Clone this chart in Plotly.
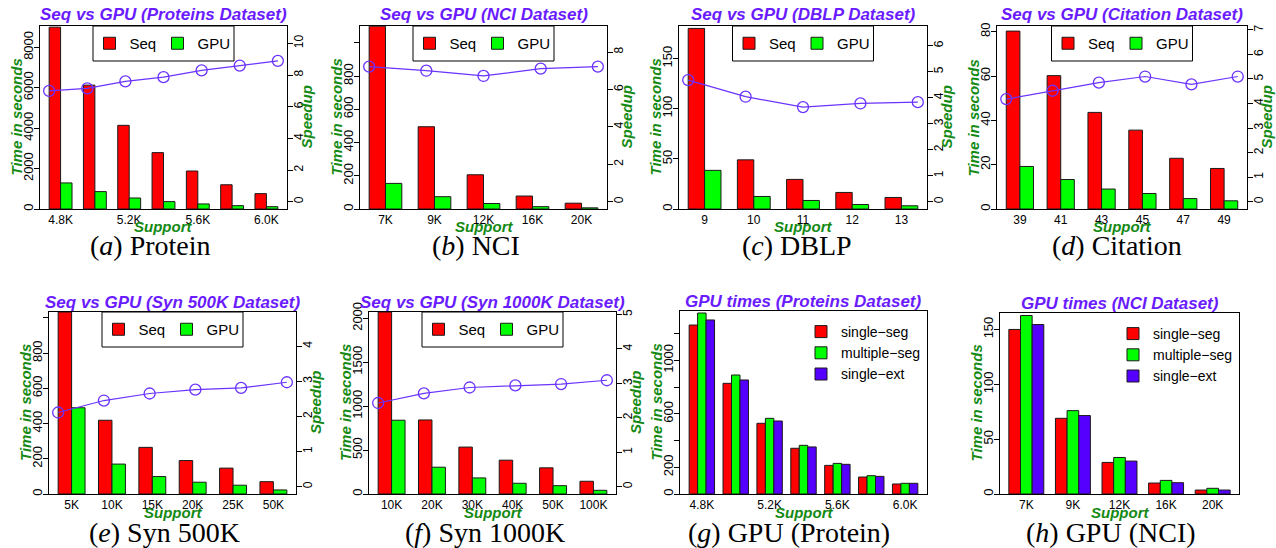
import plotly.graph_objects as go

# ---------------- data ----------------
prot_support = ["4.8K", "5.0K", "5.2K", "5.4K", "5.6K", "5.8K", "6.0K"]
prot_seq = [9000, 6130, 4140, 2790, 1880, 1200, 760]
prot_gpu = [1290, 860, 545, 365, 250, 165, 115]
prot_speedup = [7.0, 7.16, 7.6, 7.87, 8.3, 8.6, 8.9]

nci_support = ["7K", "9K", "12K", "16K", "20K"]
nci_seq = [1100, 495, 206, 78, 35]
nci_gpu = [154, 74, 33, 14, 7]
nci_speedup = [7.22, 7.0, 6.72, 7.11, 7.22]

dblp_support = ["9", "10", "11", "12", "13"]
dblp_seq = [180, 49, 29.5, 16.5, 11.5]
dblp_gpu = [38.5, 12.5, 8.5, 4.5, 3.2]
dblp_speedup = [4.68, 4.04, 3.64, 3.78, 3.83]

cit_support = ["39", "41", "43", "45", "47", "49"]
cit_seq = [80.3, 60.2, 43.6, 35.6, 22.9, 18.3]
cit_gpu = [19.2, 13.3, 9.0, 7.0, 4.7, 3.7]
cit_speedup = [4.18, 4.52, 4.85, 5.1, 4.78, 5.1]

syn500_support = ["5K", "10K", "15K", "20K", "25K", "50K"]
syn500_seq = [1034, 419, 265, 190, 147, 70]
syn500_gpu = [490, 170, 99, 67, 50, 23]
syn500_speedup = [2.11, 2.45, 2.65, 2.76, 2.81, 2.97]

syn1000_support = ["10K", "20K", "30K", "40K", "50K", "100K"]
syn1000_seq = [2072, 843, 534, 385, 298, 145]
syn1000_gpu = [840, 305, 183, 122, 95, 42]
syn1000_speedup = [2.43, 2.71, 2.88, 2.94, 2.98, 3.09]

gpu_prot_single_seg = [1264, 828, 529, 342, 214, 127, 75]
gpu_prot_multiple_seg = [1354, 890, 566, 364, 229, 137, 80]
gpu_prot_single_ext = [1302, 853, 546, 352, 222, 132, 80]

gpu_nci_single_seg = [150, 69, 28.8, 10, 3.6]
gpu_nci_multiple_seg = [162.7, 76, 33.3, 12.4, 5.2]
gpu_nci_single_ext = [154.5, 71.5, 30, 10.3, 3.6]

# ---------------- styling ----------------
W, H = 1276, 548
FONT = "Liberation Sans"
SERIF = "Liberation Serif"
TITLE_COLOR = "#6A1BFF"
AXIS_COLOR = "#148A14"
LINE_COLOR = "#6A33FF"
RED, GREEN, VIOLET = "#FF0000", "#00FF00", "#5500FF"


def fx(px):
    return px / W


def fy(py):
    return 1 - py / H


def ticks(vals, hide=()):
    return vals, ["" if v in hide else str(v) for v in vals]


panels = [
    dict(title="Seq vs GPU (Proteins Dataset)", caption="(<i>a</i>) Protein", box=(40, 26, 287, 209), cap_x=150,
         cats=prot_support, bars=[("Seq", prot_seq, RED), ("GPU", prot_gpu, GREEN)], speed=prot_speedup,
         xticks=["4.8K", "5.2K", "5.6K", "6.0K"], yrange=[0, 9056], yt=ticks([0, 2000, 4000, 6000, 8000]),
         y2range=[-0.46, 11.1], y2t=ticks([0, 2, 4, 6, 8, 10])),
    dict(title="Seq vs GPU (NCI Dataset)", caption="(<i>b</i>) NCI", box=(360, 26, 607, 209), cap_x=476,
         cats=nci_support, bars=[("Seq", nci_seq, RED), ("GPU", nci_gpu, GREEN)], speed=nci_speedup,
         xticks=nci_support, yrange=[0, 1101], yt=ticks([0, 200, 400, 600, 800, 1000], hide=(1000,)),
         y2range=[-0.39, 9.39], y2t=ticks([0, 2, 4, 6, 8])),
    dict(title="Seq vs GPU (DBLP Dataset)", caption="(<i>c</i>) DBLP", box=(679, 26, 927, 209), cap_x=797,
         cats=dblp_support, bars=[("Seq", dblp_seq, RED), ("GPU", dblp_gpu, GREEN)], speed=dblp_speedup,
         xticks=dblp_support, yrange=[0, 182.4], yt=ticks([0, 50, 100, 150]),
         y2range=[-0.28, 6.76], y2t=ticks([0, 1, 2, 3, 4, 5, 6])),
    dict(title="Seq vs GPU (Citation Dataset)", caption="(<i>d</i>) Citation", box=(997, 26, 1247, 209), cap_x=1117,
         cats=cit_support, bars=[("Seq", cit_seq, RED), ("GPU", cit_gpu, GREEN)], speed=cit_speedup,
         xticks=cit_support, yrange=[0, 82.6], yt=ticks([0, 20, 40, 60, 80]),
         y2range=[-0.3, 7.16], y2t=ticks([0, 1, 2, 3, 4, 5, 6, 7])),
    dict(title="Seq vs GPU (Syn 500K Dataset)", caption="(<i>e</i>) Syn 500K", box=(49, 312, 296, 494), cap_x=164,
         cats=syn500_support, bars=[("Seq", syn500_seq, RED), ("GPU", syn500_gpu, GREEN)], speed=syn500_speedup,
         xticks=syn500_support, yrange=[0, 1034], yt=ticks([0, 200, 400, 600, 800, 1000], hide=(1000,)),
         y2range=[-0.21, 4.97], y2t=ticks([0, 1, 2, 3, 4])),
    dict(title="Seq vs GPU (Syn 1000K Dataset)", caption="(<i>f</i>) Syn 1000K", box=(369, 312, 616, 494), cap_x=485,
         cats=syn1000_support, bars=[("Seq", syn1000_seq, RED), ("GPU", syn1000_gpu, GREEN)], speed=syn1000_speedup,
         xticks=syn1000_support, yrange=[0, 2072], yt=ticks([0, 500, 1000, 1500, 2000]),
         y2range=[-0.21, 5.07], y2t=ticks([0, 1, 2, 3, 4, 5])),
    dict(title="GPU times (Proteins Dataset)", caption="(<i>g</i>) GPU (Protein)", box=(680, 311, 927, 494), cap_x=789,
         cats=prot_support,
         bars=[("single\u2212seg", gpu_prot_single_seg, RED), ("multiple\u2212seg", gpu_prot_multiple_seg, GREEN),
               ("single\u2212ext", gpu_prot_single_ext, VIOLET)], speed=None,
         xticks=["4.8K", "5.2K", "5.6K", "6.0K"], yrange=[0, 1369],
         yt=ticks([0, 200, 400, 600, 800, 1000, 1200], hide=(400, 800, 1200)), leg_x=801),
    dict(title="GPU times (NCI Dataset)", caption="(<i>h</i>) GPU (NCI)", box=(1000, 313, 1239, 494), cap_x=1111,
         cats=nci_support,
         bars=[("single\u2212seg", gpu_nci_single_seg, RED), ("multiple\u2212seg", gpu_nci_multiple_seg, GREEN),
               ("single\u2212ext", gpu_nci_single_ext, VIOLET)], speed=None,
         xticks=nci_support, yrange=[0, 165], yt=ticks([0, 50, 100, 150]), leg_x=1113),
]

fig = go.Figure()
layout = dict(template="none", width=W, height=H, margin=dict(l=0, r=0, t=0, b=0, pad=0), autosize=False,
              plot_bgcolor="white", paper_bgcolor="white", barmode="overlay",
              font=dict(family=FONT, color="black"), annotations=[], shapes=[])

leg_count = [0]


def new_legend():
    leg_count[0] += 1
    return "legend" if leg_count[0] == 1 else "legend%d" % leg_count[0]


for i, p in enumerate(panels, start=1):
    sfx = "" if i == 1 else str(i)
    x0, y0, x1, y1 = p["box"]
    n = len(p["cats"])
    k = len(p["bars"])
    bw = 1.0 / (k + 1)
    half = k * bw / 2
    pad = 0.04 * (n * (k + 1) - 1) / (k + 1)
    cx = (x0 + x1) / 2
    cy = (y0 + y1) / 2
    row1 = y0 < 100
    two_bar = p["speed"] is not None

    shared_leg = None if two_bar else new_legend()
    for j, (name, vals, col) in enumerate(p["bars"]):
        if two_bar:
            legname = new_legend()
            # one legend per entry, placed inside the framed key
            layout[legname] = dict(orientation="h", x=fx(cx - 74 + j * 68), xanchor="left", y=fy(y0 + 17.5),
                                   yanchor="middle", bgcolor="rgba(0,0,0,0)", borderwidth=0,
                                   font=dict(size=15, family=FONT, color="black"))
        else:
            legname = shared_leg
        fig.add_trace(go.Bar(
            x=p["cats"], y=vals, name=name, width=bw, offset=-half + j * bw,
            marker=dict(color=col, line=dict(color="#1a1a1a", width=1)),
            xaxis="x" + sfx, yaxis="y" + sfx, legend=legname, hoverinfo="x+y+name"))

    layout["xaxis" + sfx] = dict(
        domain=[fx(x0), fx(x1)], anchor="y" + sfx, type="category", categoryorder="array",
        categoryarray=p["cats"], range=[-half - pad, n - 1 + half + pad], automargin=False,
        tickvals=p["xticks"], ticktext=p["xticks"], ticks="", tickfont=dict(size=12, color="black"),
        showline=True, mirror=True, linecolor="black", linewidth=1, showgrid=False, zeroline=False)
    layout["yaxis" + sfx] = dict(
        domain=[fy(y1), fy(y0)], anchor="x" + sfx, range=p["yrange"], automargin=False,
        tickvals=p["yt"][0], ticktext=p["yt"][1], ticks="outside", ticklen=5, tickcolor="black",
        tickangle=-90, tickfont=dict(size=13, color="black"), ticklabelstandoff=-4,
        showline=True, mirror=True, linecolor="black", linewidth=1, showgrid=False, zeroline=False)

    ann = layout["annotations"]
    ann.append(dict(text="<b><i>%s</i></b>" % p["title"], x=fx(cx), y=fy(y0 - (11 if row1 else 10)),
                    xref="paper", yref="paper", showarrow=False, xanchor="center", yanchor="middle",
                    font=dict(size=17, color=TITLE_COLOR, family=FONT)))
    ann.append(dict(text="<b><i>Time in seconds</i></b>", x=fx(x0 - 24), y=fy(cy), textangle=-90,
                    xref="paper", yref="paper", showarrow=False, xanchor="center", yanchor="middle",
                    font=dict(size=15, color=AXIS_COLOR, family=FONT)))
    ann.append(dict(text="<b><i>Support</i></b>", x=fx(cx), y=fy(y1 + (17 if row1 else 18)),
                    xref="paper", yref="paper", showarrow=False, xanchor="center", yanchor="middle",
                    font=dict(size=15, color=AXIS_COLOR, family=FONT)))
    ann.append(dict(text=p["caption"], x=fx(p["cap_x"]), y=fy(y1 + (36 if row1 else 38)),
                    xref="paper", yref="paper", showarrow=False, xanchor="center", yanchor="middle",
                    font=dict(size=28, color="black", family=SERIF)))

    if two_bar:
        ox = str(8 + i)
        fig.add_trace(go.Scatter(
            x=p["cats"], y=p["speed"], mode="lines+markers", showlegend=False,
            line=dict(color=LINE_COLOR, width=1.2),
            marker=dict(symbol="circle-open", size=11, color=LINE_COLOR, line=dict(width=1.3)),
            xaxis="x" + ox, yaxis="y" + ox, name="Speedup"))
        layout["xaxis" + ox] = dict(overlaying="x" + sfx, anchor="y" + ox, type="category",
                                    categoryorder="array", categoryarray=p["cats"], automargin=False,
                                    range=[-0.04 * (n - 1), 1.04 * (n - 1)], visible=False)
        layout["yaxis" + ox] = dict(overlaying="y" + sfx, side="right", anchor="x" + sfx, automargin=False,
                                    range=p["y2range"], tickvals=p["y2t"][0], ticktext=p["y2t"][1],
                                    ticks="outside", ticklen=5, tickcolor="black", tickangle=-90,
                                    tickfont=dict(size=12, color="black"), ticklabelstandoff=-4,
                                    showline=True, linecolor="black", showgrid=False, zeroline=False)
        ann.append(dict(text="<b><i>Speedup</i></b>", x=fx(x1 + 19), y=fy(cy), textangle=-90,
                        xref="paper", yref="paper", showarrow=False, xanchor="center", yanchor="middle",
                        font=dict(size=15, color=AXIS_COLOR, family=FONT)))
        # legend frame
        layout["shapes"].append(dict(type="rect", xref="paper", yref="paper",
                                     x0=fx(cx - 70.5), x1=fx(cx + 70.5), y0=fy(y0 + 35), y1=fy(y0),
                                     line=dict(color="black", width=1), fillcolor="white", layer="below"))
    else:
        layout[shared_leg] = dict(orientation="v", x=fx(p["leg_x"]), xanchor="left", y=fy(y0 + 5),
                                  yanchor="top", bgcolor="rgba(0,0,0,0)", borderwidth=0,
                                  font=dict(size=14, family=FONT, color="black"), traceorder="normal")

fig.update_layout(**layout)
fig.write_html("out.html", config={"displayModeBar": False},
               post_script="document.body.style.margin='0px';document.body.style.overflow='hidden';")
